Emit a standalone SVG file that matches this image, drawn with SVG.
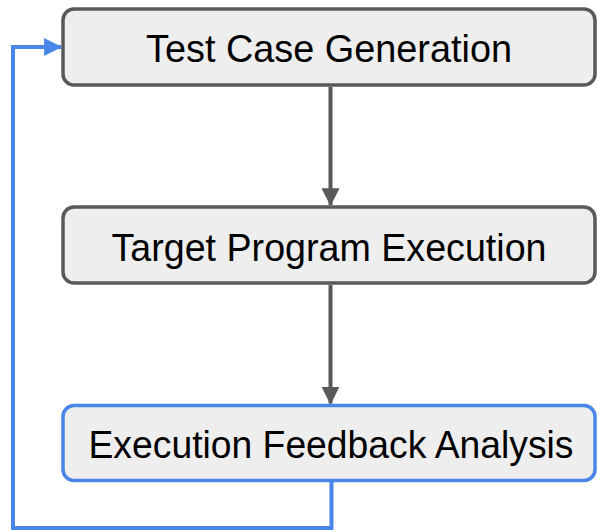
<svg xmlns="http://www.w3.org/2000/svg" width="597" height="530" viewBox="0 0 597 530">
  <style>
    .box rect { fill: #eeeeee; stroke: #595959; stroke-width: 3.5; }
    .box.feedback rect { stroke: #4a86e8; }
    .box text { font-family: "Liberation Sans", Arial, sans-serif; font-size: 39px; fill: #000000; text-anchor: middle; }
    .flow { fill: none; stroke: #595959; stroke-width: 4; }
    .loop { fill: none; stroke: #4a86e8; stroke-width: 4; }
  </style>
  <defs>
    <marker id="head-gray" markerUnits="userSpaceOnUse" markerWidth="18" markerHeight="18" viewBox="0 0 16 16" refX="15" refY="8" orient="auto">
      <path d="M0,0 L16,8 L0,16 Z" fill="#595959"/>
    </marker>
    <marker id="head-blue" markerUnits="userSpaceOnUse" markerWidth="18" markerHeight="18" viewBox="0 0 16 16" refX="15" refY="8" orient="auto">
      <path d="M0,0 L16,8 L0,16 Z" fill="#4a86e8"/>
    </marker>
  </defs>

  <g id="connectors">
    <path class="flow" d="M330.5,87 L330.5,205" marker-end="url(#head-gray)"/>
    <path class="flow" d="M330.5,285 L330.5,403.5" marker-end="url(#head-gray)"/>
    <path class="loop" d="M331.5,482 L331.5,528 L13,528 L13,47 L61,47" marker-end="url(#head-blue)"/>
  </g>

  <g id="test-case-generation" class="box">
    <rect x="63" y="9" width="532" height="76" rx="11"/>
    <text x="329" y="61.5" textLength="366" lengthAdjust="spacingAndGlyphs">Test Case Generation</text>
  </g>

  <g id="target-program-execution" class="box">
    <rect x="63" y="207" width="532" height="76" rx="11"/>
    <text x="329" y="260.5" textLength="435" lengthAdjust="spacingAndGlyphs">Target Program Execution</text>
  </g>

  <g id="execution-feedback-analysis" class="box feedback">
    <rect x="63" y="405.5" width="532" height="75" rx="11"/>
    <text x="331" y="457.5" textLength="485" lengthAdjust="spacingAndGlyphs">Execution Feedback Analysis</text>
  </g>
</svg>
